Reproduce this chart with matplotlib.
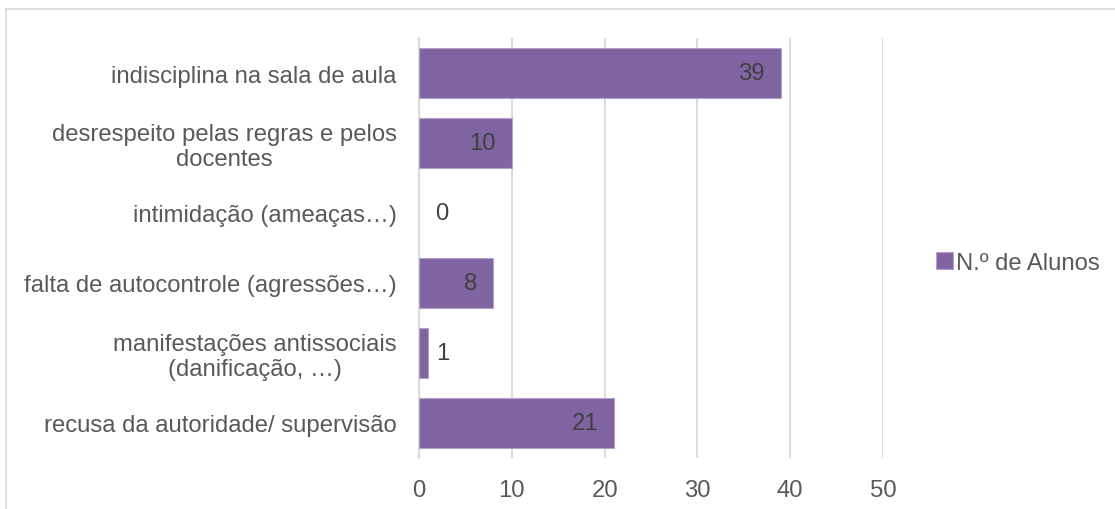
import matplotlib
matplotlib.use("Agg")
import matplotlib.pyplot as plt
from matplotlib.lines import Line2D
from matplotlib.transforms import offset_copy

categories = [
    "indisciplina na sala de aula",
    "desrespeito pelas regras e pelos\ndocentes",
    "intimidação (ameaças…)",
    "falta de autocontrole (agressões…)",
    "manifestações antissociais\n(danificação, …)",
    "recusa da autoridade/ supervisão",
]
values = [39, 10, 0, 8, 1, 21]
series_name = "N.º de Alunos"
x_ticks = [0, 10, 20, 30, 40, 50]

BAR = "#8064A2"
TEXT = "#595959"
LABEL = "#404040"
GRID = "#D9D9D9"

plt.rcParams["font.family"] = ["Liberation Sans", "DejaVu Sans"]
FS = 17.2

W, H = 1115, 510
fig = plt.figure(figsize=(W / 100, H / 100), dpi=100)
ax = fig.add_axes([419 / W, 51 / H, (883 - 419) / W, 420 / H])

pos = list(range(len(categories)))
bars = ax.barh(pos, values, height=0.714, color=BAR, linewidth=0,
               label=series_name, zorder=3)
for b, v in zip(bars, values):
    if v > 0:
        b.set_edgecolor("#B3A2C7")
        b.set_linewidth(0.8)

ax.set_ylim(len(categories) - 0.5, -0.5)
ax.set_xlim(0, 50)
ax.set_xticks(x_ticks)
ax.set_yticks(pos)
ax.set_yticklabels(categories, multialignment="center", linespacing=1.15)
ax.tick_params(axis="both", length=0, labelsize=FS, labelcolor=TEXT)
ax.tick_params(axis="y", pad=16)
ax.tick_params(axis="x", pad=15)
ax.grid(axis="x", color=GRID, linewidth=1.3, zorder=0)
for s in ("top", "right", "bottom"):
    ax.spines[s].set_visible(False)
ax.spines["left"].set_color(GRID)
ax.spines["left"].set_linewidth(1.3)

# value labels: inside the end of long bars, just outside short ones
for p, v in zip(pos, values):
    if v >= 5:
        tr = offset_copy(ax.transData, fig=fig, x=-16, y=0, units="dots")
        ax.text(v, p, str(v), transform=tr, ha="right", va="center",
                fontsize=FS, color=LABEL, zorder=4)
    else:
        shift = max(8, 16 - v * 9.28)
        tr = offset_copy(ax.transData, fig=fig, x=shift, y=0, units="dots")
        ax.text(v, p, str(v), transform=tr, ha="left", va="center",
                fontsize=FS, color=LABEL, zorder=4)

leg = ax.legend(loc="center left", bbox_to_anchor=(936 / W, 1 - 264 / H),
                bbox_transform=fig.transFigure, frameon=False, fontsize=FS,
                handlelength=0.7, handleheight=0.7, handletextpad=0.15,
                borderpad=0, borderaxespad=0)
for t in leg.get_texts():
    t.set_color(TEXT)

# chart-area border along the top and left
fig.add_artist(Line2D([6 / W, 1], [1 - 10 / H, 1 - 10 / H], transform=fig.transFigure,
                      color=GRID, linewidth=1.2))
fig.add_artist(Line2D([6 / W, 6 / W], [0, 1 - 10 / H], transform=fig.transFigure,
                      color=GRID, linewidth=1.2))

fig.savefig("out.png", dpi=100)
